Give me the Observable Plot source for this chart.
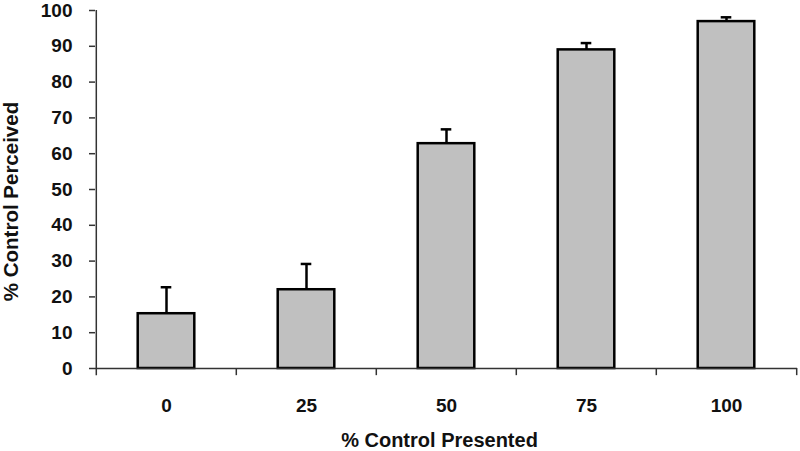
<!DOCTYPE html>
<html>
<head>
<meta charset="utf-8">
<script src="https://cdn.jsdelivr.net/npm/d3@7"></script>
<script src="https://cdn.jsdelivr.net/npm/@observablehq/plot@0.6"></script>
<style>
  html, body { margin: 0; padding: 0; background: #fff; }
  #chart svg { display: block; }
</style>
</head>
<body>
<div id="chart"></div>
<script>
// Data
const categories = ["0", "25", "50", "75", "100"];
const perceived = [15.3, 22.0, 62.8, 89.0, 96.9];
const errorTop = [22.7, 29.2, 66.8, 90.9, 98.1];
const yTicks = [0, 10, 20, 30, 40, 50, 60, 70, 80, 90, 100];
const xTitle = "% Control Presented";
const yTitle = "% Control Perceived";

const rows = categories.map((c, i) => ({cat: c, value: perceived[i], upper: errorTop[i]}));

const W = 800, H = 451;
const mL = 95, mR = 3, mT = 10, mB = 83;
const band = (W - mL - mR) / categories.length;
const barW = 57, capW = 11;
const font = "'Liberation Sans', Arial, sans-serif";
const axisColor = "#333";

const chart = Plot.plot({
  width: W,
  height: H,
  marginLeft: mL,
  marginRight: mR,
  marginTop: mT,
  marginBottom: mB,
  style: {fontFamily: font, background: "#fff", color: "#000"},
  x: {domain: categories, padding: 0, axis: null},
  y: {domain: [0, 100], axis: null},
  marks: [
    // bars
    Plot.barY(rows, {x: "cat", y: "value", fill: "#c0c0c0", stroke: "#000", strokeWidth: 2.5,
      insetLeft: (band - barW) / 2, insetRight: (band - barW) / 2}),
    // error bars (upper only)
    Plot.ruleX(rows, {x: "cat", y1: "value", y2: "upper", stroke: "#000", strokeWidth: 2.5}),
    Plot.tickY(rows, {x: "cat", y: "upper", stroke: "#000", strokeWidth: 2.5,
      insetLeft: (band - capW) / 2, insetRight: (band - capW) / 2}),
    // x axis line
    Plot.ruleY([0], {stroke: axisColor, strokeWidth: 1.5}),
    // y axis line (with the first boundary tick below the baseline)
    Plot.ruleX([categories[0]], {x: d => d, y1: -2, y2: 100, dx: -band / 2, stroke: axisColor, strokeWidth: 1.5}),
    // x boundary ticks
    Plot.ruleX(categories.slice(1), {x: d => d, y1: 0, y2: -2, dx: -band / 2, stroke: axisColor, strokeWidth: 1.5}),
    Plot.ruleX([categories[categories.length - 1]], {x: d => d, y1: 0, y2: -2, dx: band / 2, stroke: axisColor, strokeWidth: 1.5}),
    // y axis ticks and labels
    Plot.axisY({ticks: yTicks, tickSize: 6, tickPadding: 17, fontSize: 19, fontWeight: "bold",
      stroke: axisColor, strokeWidth: 1.5, label: null, color: "#111"}),
    // x tick labels
    Plot.axisX({tickSize: 0, tickPadding: 30, fontSize: 19, fontWeight: "bold", label: null, color: "#111"}),
    // axis titles
    Plot.text([xTitle], {frameAnchor: "bottom", dx: -7, dy: 72, text: d => d, fontSize: 20, fontWeight: "bold",
      fill: "#111", lineAnchor: "middle", textAnchor: "middle"}),
    Plot.text([yTitle], {frameAnchor: "left", rotate: -90, dx: -84, dy: 12, text: d => d, fontSize: 20.5,
      fontWeight: "bold", fill: "#111", lineAnchor: "middle", textAnchor: "middle"})
  ]
});
document.getElementById("chart").append(chart);
</script>
</body>
</html>
